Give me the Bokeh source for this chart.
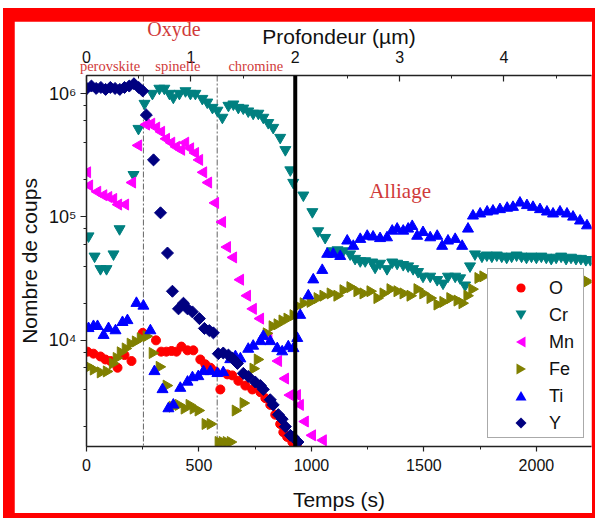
import math
from bokeh.plotting import figure
from bokeh.models import (Range1d, LinearAxis, SingleIntervalTicker, LogTicker, GridBox, Div,
                          CustomJSTickFormatter, Span, Label)
from bokeh.embed import file_html
from bokeh.resources import INLINE

# ---------------- data ----------------
t_O = [4, 31, 62, 84, 107, 138, 169, 200, 250, 309, 332, 355, 378, 400, 422, 449, 475, 506, 528, 551,
       573, 595, 626, 648, 675, 706, 737, 773, 795, 817, 839, 861, 875, 892, 915, 935]
c_O = [8100, 7800, 7400, 7000, 6800, 6000, 7600, 6800, 11500, 10000, 8100, 8100, 8200, 8100, 8900, 8300,
       8300, 7000, 6400, 6000, 5600, 4000, 5300, 5200, 4700, 4300, 4000, 3800, 3400, 3000, 2500, 2100,
       1800, 1650, 1500, 1400]

t_Cr = [9, 36, 62, 89, 120, 147, 209, 231, 258, 293, 324, 346, 369, 386, 413, 440, 462, 484,
        515, 537, 560, 582, 604, 631, 653, 675, 697, 719, 741, 764, 786, 808, 830, 861, 884, 906, 919,
        964, 1004, 1030, 1061, 1092, 1116, 1141, 1172, 1194, 1217, 1239, 1270, 1283, 1305, 1336, 1359,
        1381, 1408, 1430, 1452, 1474, 1496, 1528, 1559, 1585, 1607, 1639, 1661, 1683, 1705, 1727, 1758,
        1780, 1802, 1824, 1846, 1868, 1890, 1912, 1934, 1956, 1978, 2000, 2022, 2044, 2066, 2088, 2110,
        2132, 2154, 2176, 2198, 2220, 2240]
c_Cr = [70000, 48000, 38000, 38000, 50000, 80000, 220000, 520000, 830000, 1000000, 1100000, 1100000,
        1000000, 930000, 1000000, 1050000, 1000000, 1000000, 910000, 850000, 770000, 730000, 640000,
        800000, 820000, 770000, 760000, 720000, 690000, 690000, 640000, 580000, 530000, 440000, 350000,
        240000, 190000, 150000, 110000, 77000, 68000, 53000, 54000, 53000, 50000, 46000, 44000, 44000,
        43000, 39000, 42000, 38000, 43000, 42000, 41000, 40000, 38000, 36000, 33000, 33000, 31000,
        29000, 33000, 33000, 32000, 28000, 40000, 50000, 48000, 49000, 48000, 49000, 48000, 47000,
        48000, 49000, 48000, 47000, 48000, 47000, 48000, 47000, 46000, 47000, 48000, 46000, 47000,
        46000, 46000, 45000, 45000]

t_Mn = [4, 13, 49, 76, 98, 120, 142, 173, 204, 231, 266, 289, 311, 333, 355, 378, 400, 422, 440, 462,
        484, 502, 520, 542, 573, 604, 626, 653, 684, 715, 741, 773, 810, 853, 884, 906, 937, 950, 972,
        1004, 1052]
c_Mn = [230000, 180000, 160000, 150000, 145000, 140000, 126000, 126000, 190000, 380000, 560000, 570000,
        530000, 490000, 430000, 400000, 370000, 350000, 400000, 360000, 330000, 290000, 230000, 190000,
        130000, 91000, 57000, 47000, 31000, 23000, 18000, 15000, 10500, 6800, 4900, 3600, 3600, 3000,
        2200, 1700, 1550]

t_Fe = [9, 31, 62, 89, 116, 133, 151, 173, 195, 218, 240, 266, 293, 324, 355, 382, 409, 435, 457, 475,
        497, 528, 551, 586, 604, 622, 640, 662, 697, 741, 760, 800, 826, 848, 870, 892, 919, 937, 964,
        995, 1026, 1052, 1084, 1114, 1141, 1172, 1203, 1230, 1261, 1292, 1319, 1350, 1381, 1408, 1439,
        1470, 1496, 1528, 1559, 1585, 1616, 1648, 1670, 1692, 1714, 1741, 1763, 1800, 1850, 1900, 1950,
        2000, 2050, 2100, 2150, 2200, 2225]
c_Fe = [6100, 5800, 5500, 5600, 6500, 7200, 8000, 8600, 9400, 9800, 10400, 10800, 7900, 6100, 4300,
        2900, 3000, 2800, 3000, 2800, 2700, 2100, 2100, 1500, 1500, 1500, 1500, 2700, 3100, 5900, 7000,
        11400, 13000, 13500, 14500, 15000, 16000, 19000, 20000, 20500, 22000, 23000, 24000, 23000,
        25500, 27000, 25000, 24000, 25000, 22000, 24000, 26000, 25000, 24000, 23000, 26000, 24000,
        22000, 19500, 20500, 22000, 21000, 20000, 23000, 26000, 32000, 33000, 31000, 30000, 30000,
        30000, 30000, 30000, 30000, 30000, 30000, 30000]

t_Ti = [9, 31, 49, 76, 98, 129, 160, 182, 222, 253, 284, 302, 338, 364, 386, 417, 449, 471, 497, 520,
        551, 582, 608, 639, 662, 684, 719, 741, 773, 786, 817, 848, 870, 897, 920, 937, 950, 986, 1008,
        1048, 1070, 1097, 1128, 1159, 1186, 1217, 1248, 1274, 1305, 1336, 1359, 1381, 1408, 1430, 1448,
        1470, 1496, 1528, 1559, 1581, 1607, 1639, 1670, 1696, 1718, 1750, 1781, 1807, 1838, 1870, 1896,
        1927, 1958, 1985, 2016, 2047, 2074, 2105, 2136, 2163, 2194, 2225]
c_Ti = [12500, 13000, 13000, 11000, 12500, 12000, 14000, 14500, 20000, 19000, 12000, 5600, 4000, 2800,
        3000, 4100, 4600, 5000, 5100, 5600, 5600, 5400, 5500, 7000, 7400, 7100, 8500, 9000, 9800, 10800,
        9800, 8600, 8100, 8900, 8600, 10400, 16000, 23000, 31000, 37000, 50000, 50000, 48000, 64000,
        58000, 66000, 70000, 69000, 67000, 68000, 77000, 80000, 77000, 80000, 84000, 70000, 75000,
        68000, 70000, 58000, 64000, 66000, 58000, 80000, 102000, 106000, 110000, 112000, 115000,
        118000, 120000, 130000, 124000, 120000, 115000, 110000, 106000, 110000, 106000, 100000, 93000,
        85000]

t_Y = [2, 22, 43, 64, 85, 106, 127, 148, 169, 190, 211, 232, 250, 266, 298, 329, 360, 382, 409, 431,
       449, 471, 502, 524, 546, 564, 586, 608, 631, 648, 671, 697, 719, 750, 773, 786, 817, 830, 853,
       870, 884, 906, 919, 940]
c_Y = [1100000, 1150000, 1100000, 1120000, 1080000, 1120000, 1100000, 1080000, 1120000, 1150000,
       1200000, 1120000, 1050000, 670000, 290000, 108000, 51000, 25000, 18000, 20000, 18000, 17000,
       15000, 12500, 12000, 11500, 7800, 7900, 7600, 7200, 6500, 5400, 5100, 4600, 4300, 4000, 3300,
       3000, 2500, 2300, 2000, 1700, 1650, 1500]

series_names = ["O", "Cr", "Mn", "Fe", "Ti", "Y"]
zone_names = ["perovskite", "spinelle", "chromine"]
zone_centers = [107, 408, 755]    # s
zone_bounds = [253, 581]          # s
oxide_center = 391                # s
interface_time = 928              # s
seconds_per_um = 464.0

# ---------------- styles / geometry ----------------
FONT = "Liberation Sans"
SERIF = "Liberation Serif"
RED_TXT = "#d03a3a"
colors = ["#ff0000", "#008080", "#ff00ff", "#808000", "#0000ff", "#000080"]
markers = ["circle", "inverted_triangle", "triangle", "triangle", "triangle", "square"]
angles = [0.0, 0.0, math.pi / 2, -math.pi / 2, 0.0, math.pi / 4]
sizes = [9, 11, 11, 11, 11, 8.5]

FIG_W, FIG_H = 578, 492
B_L, B_T, B_R, B_B = 72, 54, 1, 64
FRAME_W = FIG_W - B_L - B_R
X_MAX = 2245
Y_MIN, Y_MAX = 1380, 1.4e6

p = figure(width=FIG_W, height=FIG_H, y_axis_type="log", title=None,
           x_range=Range1d(0, X_MAX), y_range=Range1d(Y_MIN, Y_MAX),
           output_backend="svg", toolbar_location=None,
           min_border_left=B_L, min_border_top=B_T, min_border_right=B_R, min_border_bottom=B_B,
           background_fill_color="white", border_fill_color="white")
p.outline_line_color = None
p.xgrid.grid_line_color = None
p.ygrid.grid_line_color = None

xb = p.below[0]
xb.ticker = SingleIntervalTicker(interval=500, num_minor_ticks=2)
xb.axis_label = "Temps (s)"
yl = p.left[0]
yl.ticker = LogTicker()
yl.axis_label = "Nombre de coups"
yl.formatter = CustomJSTickFormatter(code="""
const e = Math.round(Math.log10(tick));
const sup = {'0':'\u2070','1':'\u00b9','2':'\u00b2','3':'\u00b3','4':'\u2074','5':'\u2075','6':'\u2076','7':'\u2077','8':'\u2078','9':'\u2079','-':'\u207b'};
return '10' + String(e).split('').map(c => sup[c]).join('');
""")

p.extra_x_ranges = {"depth": Range1d(0, X_MAX / seconds_per_um)}
xt = LinearAxis(x_range_name="depth", axis_label="Profondeur (\u00b5m)",
                ticker=SingleIntervalTicker(interval=1, num_minor_ticks=2))
p.add_layout(xt, "above")

for ax in (xb, yl, xt):
    ax.axis_line_color = "#222222"
    ax.axis_line_width = 1.5
    ax.major_tick_line_color = "#222222"
    ax.minor_tick_line_color = "#222222"
    ax.major_tick_line_width = 1.2
    ax.axis_label_text_font = FONT
    ax.axis_label_text_font_style = "normal"
    ax.axis_label_text_font_size = "21px"
    ax.axis_label_text_color = "#111111"
    ax.major_label_text_font = FONT
    ax.major_label_text_font_size = "16px"
    ax.major_label_text_color = "#111111"

xb.major_tick_in, xb.major_tick_out = 0, 5
xb.minor_tick_in, xb.minor_tick_out = 0, 3
xb.major_label_standoff = 7
xb.axis_label_standoff = 14

yl.major_tick_in, yl.major_tick_out = 0, 6
yl.minor_tick_in, yl.minor_tick_out = 0, 3
yl.major_label_standoff = 4
yl.axis_label_standoff = 5
yl.major_label_text_font_size = "18px"

xt.major_tick_in, xt.major_tick_out = 6, 0
xt.minor_tick_in, xt.minor_tick_out = 3, 0
xt.major_label_standoff = 13
xt.axis_label_standoff = 0

for loc in zone_bounds:
    p.add_layout(Span(location=loc, dimension="height", line_color="#666666",
                      line_width=1, line_dash="6 2 2 2", level="underlay"))
p.add_layout(Span(location=interface_time, dimension="height", line_color="black", line_width=4))

series = [(t_O, c_O), (t_Cr, c_Cr), (t_Mn, c_Mn), (t_Fe, c_Fe), (t_Ti, c_Ti), (t_Y, c_Y)]
for (tt, cc), mk, ang, sz, col in zip(series, markers, angles, sizes, colors):
    p.scatter(tt, cc, marker=mk, angle=ang, size=sz, color=col)

p.add_layout(Label(x=1394, y=1.63e5, text="Alliage", text_font=SERIF, text_font_size="21px",
                   text_color=RED_TXT, text_align="center", text_baseline="middle"))

# ---------------- HTML overlay: texts above the frame and the legend ----------------
def sx(t):
    return B_L + t / X_MAX * FRAME_W

def span(x, y, txt, size, font, color):
    return (f'<span style="position:absolute;left:{x:.1f}px;top:{y:.1f}px;'
            f'transform:translate(-50%,-50%);white-space:nowrap;line-height:1;'
            f'font-family:\'{font}\';font-size:{size};color:{color};">{txt}</span>')

key_svgs = [
    '<circle cx="7" cy="7" r="4.6" fill="{c}"/>',
    '<polygon points="1.5,2.5 12.5,2.5 7,12" fill="{c}"/>',
    '<polygon points="2,7 11.5,1.5 11.5,12.5" fill="{c}"/>',
    '<polygon points="12,7 2.5,1.5 2.5,12.5" fill="{c}"/>',
    '<polygon points="7,2 12.5,11.5 1.5,11.5" fill="{c}"/>',
    '<polygon points="7,1.5 12.5,7 7,12.5 1.5,7" fill="{c}"/>',
]

parts = []
for name, tc in zip(zone_names, zone_centers):
    parts.append(span(sx(tc), B_T - 9, name, "14.5px", SERIF, RED_TXT))
parts.append(span(sx(oxide_center), B_T - 46, "Oxyde", "20px", SERIF, RED_TXT))

LG_L, LG_T, LG_W, LG_H = 473, 247, 97, 170
rows = []
for i, (name, col) in enumerate(zip(series_names, colors)):
    cy = 19 + 27 * i
    rows.append(f'<svg width="14" height="14" style="position:absolute;left:26px;top:{cy - 7}px;">'
                + key_svgs[i].format(c=col) + '</svg>')
    rows.append(f'<span style="position:absolute;left:61px;top:{cy}px;transform:translateY(-50%);'
                f'line-height:1;font-family:\'{FONT}\';font-size:18px;color:#111111;">{name}</span>')
parts.append(f'<div style="position:absolute;left:{LG_L}px;top:{LG_T}px;width:{LG_W}px;height:{LG_H}px;'
             f'box-sizing:border-box;background:white;border:1.5px solid #aaaaaa;">' + "".join(rows) + '</div>')

html = (f'<div style="position:relative;width:{FIG_W}px;height:{FIG_H}px;">' + "".join(parts) + '</div>')
overlay = Div(text=html, width=FIG_W, height=FIG_H, margin=0, styles={"pointer-events": "none"})

layout = GridBox(children=[(p, 0, 0), (overlay, 0, 0)],
                 styles={"background-color": "#ff0000", "padding": "13px 3px 5px 11px",
                         "margin": "8px 0px 0px 3px"})

open("out.html", "w").write(file_html(layout, INLINE))
